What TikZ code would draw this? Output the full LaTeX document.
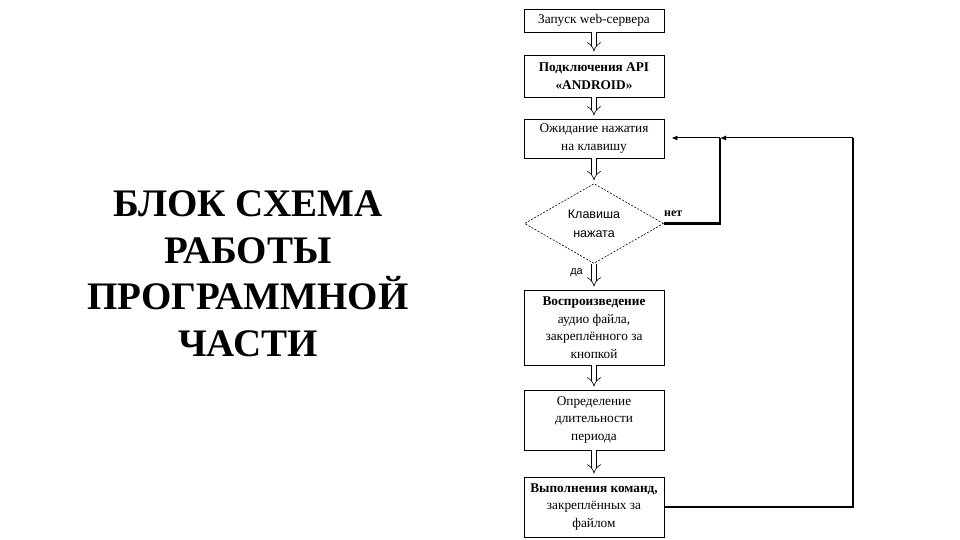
\documentclass[tikz,border=0pt]{standalone}
\usepackage{fontspec}
\setmainfont{Liberation Serif}
\newfontfamily\diafont{Liberation Sans}
\usetikzlibrary{shapes.geometric,arrows.meta,arrows}
\begin{document}
\begin{tikzpicture}[x=1pt,y=-1pt,
  blk/.style={draw, line width=0.9pt, minimum width=140pt, inner sep=0pt, align=center,
    font=\fontsize{13.3}{17.5}\selectfont},
  dec/.style={draw, dashed, dash pattern=on 2pt off 1.5pt, line width=0.6pt, diamond,
    minimum width=139pt, minimum height=79pt, inner sep=0pt, align=center,
    font=\diafont\fontsize{12.5}{19}\selectfont},
  hollow/.style={double, double distance=4.5pt, line width=0.6pt, -{Implies}, shorten >=3pt},
  thickline/.style={line width=2.8pt},
  thinarrow/.style={line width=1pt, -{Latex[length=6pt,width=5pt]}},
  lbl/.style={inner sep=0pt, font=\fontsize{12}{14}\selectfont}]
\path[use as bounding box] (0,0) rectangle (960,540);
\fill[white] (0,0) rectangle (960,540);

\node[align=center, font=\bfseries\fontsize{39}{46.5}\selectfont] (title) at (248,274)
  {БЛОК СХЕМА\\РАБОТЫ\\ПРОГРАММНОЙ\\ЧАСТИ};

\node[blk, minimum height=23pt] (b1) at (594,20.5) {Запуск web-сервера};
\node[blk, minimum height=42pt] (b2) at (594,76) {\bfseries Подключения API\\\bfseries «ANDROID»};
\node[blk, minimum height=39pt] (b3) at (594,138.5) {Ожидание нажатия\\на клавишу};
\node[dec] (d) at (594,223.5) {Клавиша\\нажата};
\node[blk, minimum height=75pt] (b5) at (594,327.5) {\bfseries Воспроизведение\\аудио файла,\\закреплённого за\\кнопкой};
\node[blk, minimum height=60pt] (b6) at (594,420) {Определение\\длительности\\периода};
\node[blk, minimum height=60pt] (b7) at (594,507) {\bfseries Выполнения команд,\\закреплённых за\\файлом};

\draw[hollow] (b1.south) -- (b2.north);
\draw[hollow] (b2.south) -- (b3.north);
\draw[hollow] (b3.south) -- (d.north);
\draw[hollow] (d.south) -- (b5.north);
\draw[hollow] (b5.south) -- (b6.north);
\draw[hollow] (b6.south) -- (b7.north);

\coordinate (j) at (720,138);
\coordinate (r) at (853,138);
\draw[thickline] (d.east) -| (j);
\draw[thinarrow, shorten >=7pt] (j) -- (b3.east |- j);
\draw[thickline] (b7.east) -| (r);
\draw[thinarrow] (r) -- (j);

\node[lbl, anchor=west, font=\bfseries\fontsize{12}{14}\selectfont] (no) at (664,214) {нет};
\node[lbl, anchor=east, font=\diafont\fontsize{11}{13}\selectfont] (yes) at (583,273) {да};
\end{tikzpicture}
\end{document}
